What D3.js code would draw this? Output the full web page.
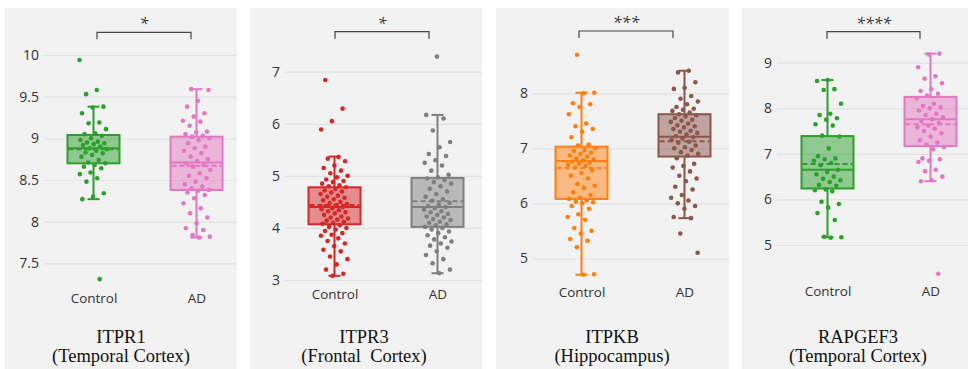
<!DOCTYPE html>
<html>
<head>
<meta charset="utf-8">
<script src="https://cdn.jsdelivr.net/npm/d3@7"></script>
<style>
  html, body { margin: 0; padding: 0; background: #ffffff; }
  svg { display: block; }
  .tick text { font-family: "Open Sans", "Noto Sans", sans-serif; }
</style>
</head>
<body>
<svg id="chart" width="968" height="369"></svg>
<script>
// ---- data -------------------------------------------------------------
const groups = ["Control", "AD"];
const genes = ["ITPR1", "ITPR3", "ITPKB", "RAPGEF3"];
const regions = ["(Temporal Cortex)", "(Frontal  Cortex)", "(Hippocampus)", "(Temporal Cortex)"];
const significance = ["*", "*", "***", "****"];
const yTicks = [
  [7.5, 8, 8.5, 9, 9.5, 10],
  [3, 4, 5, 6, 7],
  [5, 6, 7, 8],
  [5, 6, 7, 8, 9]
];

// box summaries: [lower whisker, q1, median, q3, upper whisker, mean]
const itpr1ControlBox = [8.27, 8.70, 8.88, 9.04, 9.38, 8.87];
const itpr1ADBox      = [7.81, 8.38, 8.71, 9.02, 9.59, 8.67];
const itpr3ControlBox = [3.08, 4.07, 4.40, 4.78, 5.37, 4.44];
const itpr3ADBox      = [3.13, 4.02, 4.40, 4.96, 6.17, 4.51];
const itpkbControlBox = [4.70, 6.08, 6.77, 7.03, 8.01, 6.64];
const itpkbADBox      = [5.73, 6.85, 7.21, 7.62, 8.41, 7.13];
const rapgef3ControlBox = [5.17, 6.24, 6.65, 7.39, 8.62, 6.78];
const rapgef3ADBox      = [6.40, 7.17, 7.76, 8.25, 9.20, 7.65];

// individual samples
const itpr1Control = [9.94, 9.58, 9.53, 9.38, 9.37, 9.30, 9.19, 9.18, 9.11, 9.06, 9.05, 9.03, 9.00, 8.98, 8.96, 8.95, 8.94, 8.93, 8.92, 8.90, 8.88, 8.87, 8.85, 8.83, 8.82, 8.80, 8.78, 8.74, 8.71, 8.70, 8.68, 8.66, 8.64, 8.59, 8.57, 8.52, 8.48, 8.34, 8.30, 8.27, 7.31];
const itpr1AD = [9.59, 9.58, 9.45, 9.38, 9.30, 9.26, 9.21, 9.20, 9.15, 9.08, 9.07, 9.05, 9.03, 9.02, 9.00, 8.98, 8.94, 8.90, 8.88, 8.85, 8.82, 8.78, 8.75, 8.73, 8.70, 8.68, 8.66, 8.62, 8.58, 8.55, 8.52, 8.48, 8.45, 8.42, 8.40, 8.38, 8.37, 8.35, 8.32, 8.28, 8.22, 8.16, 8.10, 8.05, 7.98, 7.92, 7.90, 7.84, 7.82, 7.81];
const itpr3Control = [6.84, 6.29, 6.05, 5.89, 5.36, 5.33, 5.28, 5.20, 5.15, 5.10, 5.05, 5.00, 4.97, 4.93, 4.90, 4.88, 4.85, 4.82, 4.80, 4.78, 4.75, 4.72, 4.70, 4.68, 4.65, 4.62, 4.60, 4.58, 4.55, 4.53, 4.50, 4.48, 4.46, 4.44, 4.42, 4.40, 4.38, 4.36, 4.34, 4.32, 4.30, 4.28, 4.25, 4.22, 4.20, 4.18, 4.16, 4.14, 4.12, 4.10, 4.08, 4.05, 4.02, 4.00, 3.97, 3.94, 3.90, 3.87, 3.85, 3.80, 3.75, 3.70, 3.65, 3.58, 3.55, 3.45, 3.40, 3.30, 3.20, 3.12, 3.08];
const itpr3AD = [7.29, 6.17, 6.10, 5.87, 5.65, 5.55, 5.42, 5.38, 5.30, 5.25, 5.20, 5.10, 5.02, 4.97, 4.95, 4.92, 4.88, 4.85, 4.80, 4.75, 4.70, 4.65, 4.60, 4.55, 4.52, 4.48, 4.45, 4.42, 4.40, 4.38, 4.35, 4.32, 4.30, 4.27, 4.25, 4.22, 4.20, 4.17, 4.15, 4.12, 4.10, 4.07, 4.05, 4.02, 4.00, 3.97, 3.93, 3.90, 3.86, 3.82, 3.78, 3.74, 3.70, 3.66, 3.62, 3.55, 3.48, 3.40, 3.32, 3.20, 3.13];
const itpkbControl = [8.70, 8.01, 8.00, 7.82, 7.80, 7.75, 7.62, 7.45, 7.40, 7.35, 7.30, 7.20, 7.07, 7.05, 7.00, 6.97, 6.95, 6.92, 6.90, 6.87, 6.85, 6.82, 6.80, 6.78, 6.76, 6.74, 6.72, 6.70, 6.68, 6.65, 6.60, 6.55, 6.50, 6.45, 6.35, 6.32, 6.28, 6.20, 6.15, 6.10, 6.08, 6.05, 6.03, 6.02, 6.00, 5.95, 5.90, 5.80, 5.75, 5.70, 5.55, 5.50, 5.45, 5.35, 5.32, 5.20, 4.71, 4.70];
const itpkbAD = [8.41, 8.38, 8.20, 8.10, 8.08, 7.95, 7.90, 7.85, 7.80, 7.75, 7.72, 7.70, 7.68, 7.65, 7.62, 7.60, 7.58, 7.55, 7.52, 7.50, 7.48, 7.45, 7.42, 7.40, 7.38, 7.35, 7.32, 7.30, 7.28, 7.25, 7.22, 7.20, 7.18, 7.15, 7.12, 7.10, 7.05, 7.02, 7.00, 6.97, 6.93, 6.90, 6.87, 6.82, 6.72, 6.68, 6.65, 6.58, 6.50, 6.45, 6.40, 6.30, 6.25, 6.15, 6.10, 6.05, 6.00, 5.95, 5.90, 5.75, 5.73, 5.45, 5.10];
const rapgef3Control = [8.62, 8.60, 8.42, 8.40, 8.10, 7.88, 7.85, 7.78, 7.75, 7.65, 7.62, 7.40, 7.38, 7.12, 6.95, 6.90, 6.88, 6.85, 6.80, 6.75, 6.65, 6.60, 6.55, 6.50, 6.45, 6.42, 6.38, 6.32, 6.30, 6.22, 6.20, 6.18, 5.95, 5.90, 5.82, 5.70, 5.55, 5.18, 5.17, 5.16];
const rapgef3AD = [9.20, 9.18, 8.90, 8.70, 8.65, 8.55, 8.42, 8.38, 8.32, 8.28, 8.22, 8.10, 8.05, 8.02, 8.00, 7.95, 7.88, 7.85, 7.80, 7.76, 7.72, 7.68, 7.62, 7.58, 7.55, 7.50, 7.45, 7.38, 7.30, 7.25, 7.20, 7.15, 7.10, 6.90, 6.88, 6.85, 6.82, 6.65, 6.62, 6.50, 6.42, 6.40, 4.37];

const samples = [
  [itpr1Control, itpr1AD],
  [itpr3Control, itpr3AD],
  [itpkbControl, itpkbAD],
  [rapgef3Control, rapgef3AD]
];
const boxes = [
  [itpr1ControlBox, itpr1ADBox],
  [itpr3ControlBox, itpr3ADBox],
  [itpkbControlBox, itpkbADBox],
  [rapgef3ControlBox, rapgef3ADBox]
];

// ---- layout & style ----------------------------------------------------
const panelColors = [
  ["#2ca02c", "#e377c2"],
  ["#d62728", "#7f7f7f"],
  ["#ff7f0e", "#8c564b"],
  ["#2ca02c", "#e377c2"]
];
// per panel: background extent, gridline start, group centres, y domain → pixel range
const layout = [
  { left: 5,   right: 237, grid: 44,  cx: [93.5, 196.5], dom: [7.5, 10], rng: [263.3, 55.0], catY: 302, brY: 32.3, brX: [97, 191],  titleX: 121 },
  { left: 250, right: 482, grid: 285, cx: [334.5, 437.5], dom: [3, 7],   rng: [280.0, 71.7], catY: 298, brY: 31.7, brX: [335, 429], titleX: 364 },
  { left: 496, right: 729, grid: 533, cx: [581.5, 684.5], dom: [5, 8],   rng: [258.3, 93.3], catY: 296, brY: 31.0, brX: [579, 673], titleX: 612 },
  { left: 742, right: 968, grid: 777, cx: [827.5, 930.5], dom: [5, 9],   rng: [245.0, 62.7], catY: 295, brY: 31.7, brX: [827, 920], titleX: 858 }
];
const panelTop = 8, panelBottom = 369;
const boxWidth = 52, capWidth = 12, jitterWidth = 28, dotR = 2.3;

const svg = d3.select("#chart");

layout.forEach((L, p) => {
  const g = svg.append("g");

  g.append("rect")
    .attr("x", L.left).attr("y", panelTop)
    .attr("width", L.right - L.left).attr("height", panelBottom - panelTop)
    .attr("fill", "#f2f2f2");

  const y = d3.scaleLinear().domain(L.dom).range(L.rng);
  const x = d3.scaleOrdinal().domain(groups).range(L.cx);

  // y axis with gridlines
  const yAxis = d3.axisLeft(y)
    .tickValues(yTicks[p])
    .tickFormat(d3.format("~g"))
    .tickSize(-(L.right - L.grid))
    .tickPadding(5);
  const ya = g.append("g").attr("transform", `translate(${L.grid},0)`).call(yAxis);
  ya.select(".domain").remove();
  ya.selectAll(".tick line").attr("stroke", "#e1e1e1").attr("stroke-width", 1.2);
  ya.selectAll(".tick text").attr("fill", "#333").attr("font-size", 14);

  // category labels
  const xAxis = d3.axisBottom(x).tickSize(0).tickPadding(0);
  const xa = g.append("g").attr("transform", `translate(0,${L.catY - 9})`).call(xAxis);
  xa.select(".domain").remove();
  xa.selectAll(".tick text").attr("fill", "#333").attr("font-size", 13.5).attr("dy", "0.71em");

  groups.forEach((grp, k) => {
    const col = panelColors[p][k];
    const [lo, q1, med, q3, hi, mean] = boxes[p][k];
    const cx = x(grp);
    const bg = g.append("g");

    // whiskers + caps
    bg.append("line").attr("x1", cx).attr("x2", cx).attr("y1", y(lo)).attr("y2", y(q1))
      .attr("stroke", col).attr("stroke-width", 2);
    bg.append("line").attr("x1", cx).attr("x2", cx).attr("y1", y(q3)).attr("y2", y(hi))
      .attr("stroke", col).attr("stroke-width", 2);
    [lo, hi].forEach(v => {
      bg.append("line").attr("x1", cx - capWidth / 2).attr("x2", cx + capWidth / 2)
        .attr("y1", y(v)).attr("y2", y(v)).attr("stroke", col).attr("stroke-width", 2);
    });

    // box
    bg.append("rect")
      .attr("x", cx - boxWidth / 2).attr("y", y(q3))
      .attr("width", boxWidth).attr("height", y(q1) - y(q3))
      .attr("fill", col).attr("fill-opacity", 0.5)
      .attr("stroke", col).attr("stroke-width", 2);
    bg.append("line").attr("x1", cx - boxWidth / 2).attr("x2", cx + boxWidth / 2)
      .attr("y1", y(med)).attr("y2", y(med)).attr("stroke", col).attr("stroke-width", 2);
    bg.append("line").attr("x1", cx - boxWidth / 2 + 1).attr("x2", cx + boxWidth / 2 - 1)
      .attr("y1", y(mean)).attr("y2", y(mean)).attr("stroke", col).attr("stroke-width", 2)
      .attr("stroke-dasharray", "5,3");

    // jittered samples (deterministic golden-ratio spread)
    bg.selectAll("circle").data(samples[p][k]).join("circle")
      .attr("cx", (d, i) => cx + (((i * 0.6180339887 + 0.31 * k + 0.17 * p) % 1) - 0.5) * jitterWidth)
      .attr("cy", d => y(d))
      .attr("r", dotR)
      .attr("fill", col);
  });

  // significance bracket
  const [bx1, bx2] = L.brX;
  g.append("path")
    .attr("d", `M${bx1},${L.brY + 7}V${L.brY}H${bx2}V${L.brY + 7}`)
    .attr("fill", "none").attr("stroke", "#444").attr("stroke-width", 1.2);
  g.append("text")
    .attr("x", (bx1 + bx2) / 2).attr("y", L.brY - 3)
    .attr("text-anchor", "middle")
    .attr("font-family", "'Open Sans', sans-serif").attr("font-size", 16)
    .attr("font-style", "italic")
    .attr("fill", "#333")
    .text(significance[p]);

  // gene / region title
  const t = g.append("text")
    .attr("text-anchor", "middle")
    .attr("font-family", "'Liberation Serif', 'Times New Roman', serif")
    .attr("font-size", 18.5)
    .attr("fill", "#111")
    .style("white-space", "pre");
  t.append("tspan").attr("x", L.titleX).attr("y", 343).text(genes[p]);
  t.append("tspan").attr("x", L.titleX).attr("y", 362).text(regions[p]);
});
</script>
</body>
</html>
